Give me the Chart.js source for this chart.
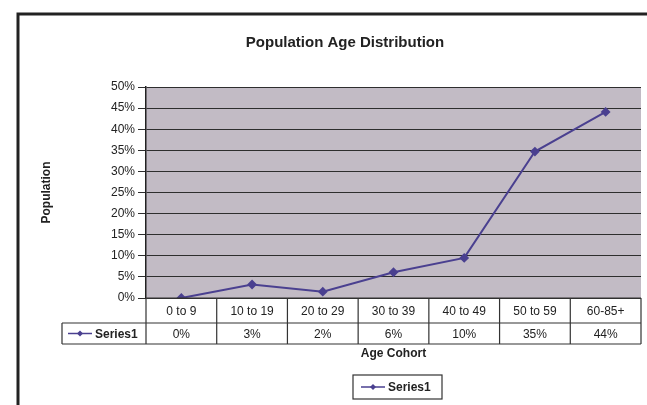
<!DOCTYPE html>
<html>
<head>
<meta charset="utf-8">
<script src="https://cdn.jsdelivr.net/npm/chart.js@4"></script>
<style>
  html, body { margin: 0; padding: 0; background: #fff; }
  #wrap { width: 647px; height: 405px; }
</style>
</head>
<body>
<div id="wrap"><canvas id="ageChart" width="647" height="405"></canvas></div>
<script>
// Chart values
const cohorts = ["0 to 9", "10 to 19", "20 to 29", "30 to 39", "40 to 49", "50 to 59", "60-85+"];
const series1 = [0, 3.2, 1.5, 6.1, 9.5, 34.7, 44.1];
const seriesName = "Series1";
const yMax = 50;
const yStep = 5;

const lineColor = "#4a4090";
const gridColor = "#2e2e2e";
const fontFamily = "'Liberation Sans', Arial, sans-serif";

// draws the diamond-on-a-line legend key
function drawKey(ctx, x1, x2, y) {
  ctx.save();
  ctx.strokeStyle = lineColor;
  ctx.lineWidth = 1.5;
  ctx.beginPath();
  ctx.moveTo(x1, y);
  ctx.lineTo(x2, y);
  ctx.stroke();
  const cx = (x1 + x2) / 2;
  ctx.fillStyle = lineColor;
  ctx.beginPath();
  ctx.moveTo(cx, y - 3);
  ctx.lineTo(cx + 3, y);
  ctx.lineTo(cx, y + 3);
  ctx.lineTo(cx - 3, y);
  ctx.closePath();
  ctx.fill();
  ctx.restore();
}

// Frame, plot background and titles
const backgroundPlugin = {
  id: "background",
  beforeDraw(chart) {
    const { ctx, chartArea: a } = chart;
    ctx.save();
    ctx.fillStyle = "#fff";
    ctx.fillRect(0, 0, chart.width, chart.height);
    ctx.fillStyle = "#c2bbc5";
    ctx.fillRect(a.left, a.top, a.right - a.left, a.bottom - a.top);

    // outer frame (left and top only, the rest is cut off)
    ctx.strokeStyle = "#222";
    ctx.lineWidth = 3;
    ctx.beginPath();
    ctx.moveTo(18, chart.height);
    ctx.lineTo(18, 14);
    ctx.lineTo(chart.width, 14);
    ctx.stroke();

    ctx.fillStyle = "#222";
    ctx.textAlign = "center";
    ctx.textBaseline = "middle";
    ctx.font = "bold 15px " + fontFamily;
    ctx.fillText("Population Age Distribution", 345, 43);

    ctx.font = "bold 12px " + fontFamily;
    ctx.translate(47, (a.top + a.bottom) / 2);
    ctx.rotate(-Math.PI / 2);
    ctx.fillText("Population", 0, 0);
    ctx.restore();
  }
};

// Data table under the plot, axis title and legend
const tablePlugin = {
  id: "dataTable",
  afterDraw(chart) {
    const { ctx, chartArea: a, scales } = chart;
    const x = scales.x;
    const colW = (a.right - a.left) / cohorts.length;
    const row1 = a.bottom;
    const row2 = row1 + 25;
    const row3 = row2 + 21;
    const labelLeft = 62;

    ctx.save();
    ctx.strokeStyle = "#333";
    ctx.lineWidth = 1.2;
    ctx.beginPath();
    ctx.moveTo(a.left, row1);
    ctx.lineTo(a.right, row1);
    ctx.moveTo(labelLeft, row2);
    ctx.lineTo(a.right, row2);
    ctx.moveTo(labelLeft, row3);
    ctx.lineTo(a.right, row3);
    ctx.moveTo(labelLeft, row2);
    ctx.lineTo(labelLeft, row3);
    for (let i = 0; i <= cohorts.length; i++) {
      const bx = a.left + i * colW;
      ctx.moveTo(bx, row1);
      ctx.lineTo(bx, row3);
    }
    ctx.stroke();

    ctx.fillStyle = "#222";
    ctx.textAlign = "center";
    ctx.textBaseline = "middle";
    ctx.font = "12px " + fontFamily;
    cohorts.forEach((c, i) => {
      const cx = x.getPixelForValue(i);
      ctx.fillText(c, cx, (row1 + row2) / 2 + 1);
      ctx.fillText(Math.round(series1[i]) + "%", cx, (row2 + row3) / 2 + 1);
    });

    // series label cell
    drawKey(ctx, labelLeft + 6, labelLeft + 30, (row2 + row3) / 2);
    ctx.font = "bold 12px " + fontFamily;
    ctx.textAlign = "left";
    ctx.fillText(seriesName, labelLeft + 33, (row2 + row3) / 2 + 1);

    // x axis title
    ctx.textAlign = "center";
    ctx.fillText("Age Cohort", (a.left + a.right) / 2, row3 + 10);

    // legend box
    ctx.strokeStyle = "#333";
    ctx.lineWidth = 1.2;
    ctx.strokeRect(353, 375, 89, 24);
    drawKey(ctx, 361, 385, 387);
    ctx.textAlign = "left";
    ctx.fillText(seriesName, 388, 388);
    ctx.restore();
  }
};

new Chart(document.getElementById("ageChart"), {
  type: "line",
  data: {
    labels: cohorts,
    datasets: [{
      label: seriesName,
      data: series1,
      borderColor: lineColor,
      backgroundColor: lineColor,
      borderWidth: 2,
      pointStyle: "rectRot",
      pointRadius: 3.5,
      tension: 0
    }]
  },
  options: {
    responsive: false,
    animation: false,
    layout: { padding: { left: 0, right: 4, top: 87, bottom: 107 } },
    scales: {
      x: {
        display: false,
        offset: true
      },
      y: {
        min: 0,
        max: yMax,
        afterFit(scale) { scale.width = 146; },
        ticks: {
          stepSize: yStep,
          padding: 3,
          color: "#222",
          font: { family: fontFamily, size: 12 },
          callback: (v) => v + "%"
        },
        grid: { color: gridColor, lineWidth: 1, tickLength: 8 },
        border: { color: "#222", width: 1.5 }
      }
    },
    plugins: {
      legend: { display: false },
      title: { display: false },
      tooltip: { enabled: false }
    }
  },
  plugins: [backgroundPlugin, tablePlugin]
});
</script>
</body>
</html>
